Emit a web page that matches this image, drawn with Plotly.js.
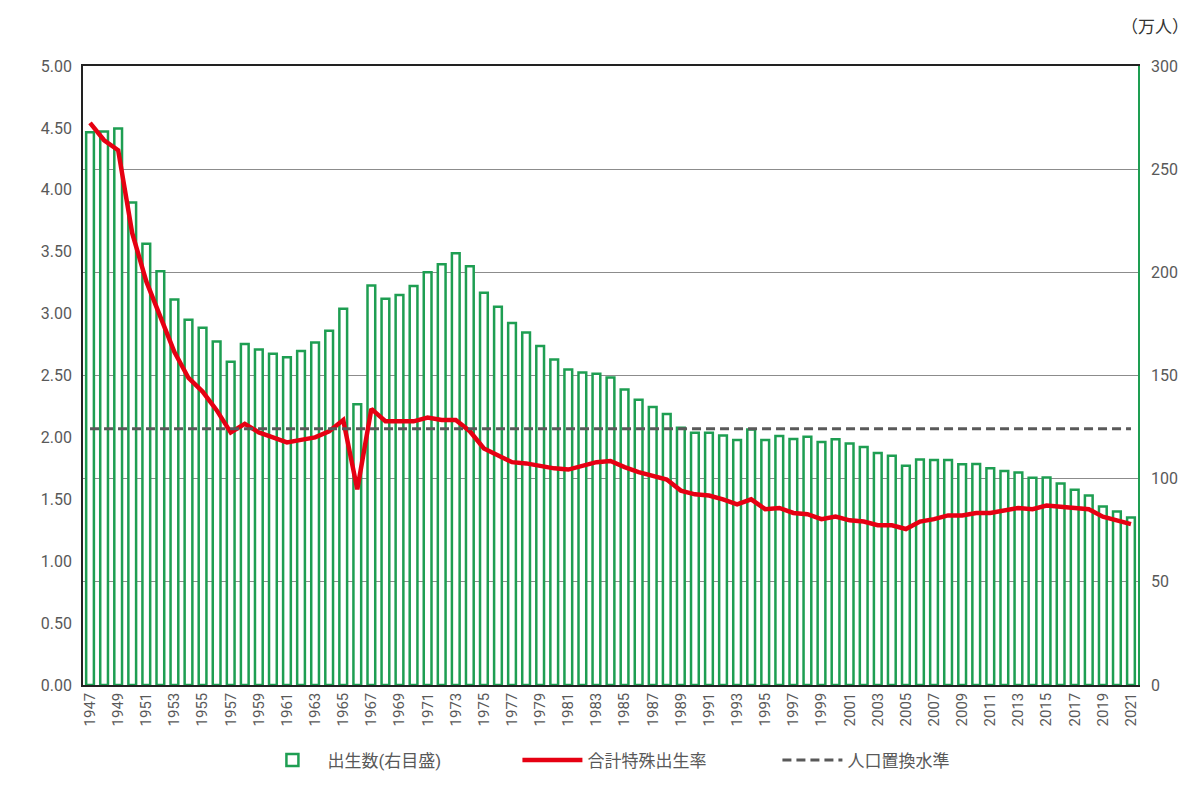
<!DOCTYPE html>
<html>
<head>
<meta charset="utf-8">
<script src="https://cdn.plot.ly/plotly-3.0.1.min.js"></script>
<style>
  html, body { margin: 0; padding: 0; background: #fff; }
  #chart { width: 1200px; height: 791px; }
</style>
</head>
<body>
<div id="chart"></div>
<script>
// 年
var years = [];
for (var y = 1947; y <= 2021; y++) years.push(y);

// 出生数（万人）
var births = [
  267.9, 268.2, 269.7, 233.8, 213.8, 200.5, 186.8, 177.0, 173.1, 166.5,
  156.7, 165.3, 162.6, 160.6, 158.9, 161.9, 166.0, 171.7, 182.4, 136.1,
  193.6, 187.2, 189.0, 193.4, 200.1, 203.9, 209.2, 203.0, 190.1, 183.3,
  175.5, 170.9, 164.3, 157.7, 152.9, 151.5, 150.9, 149.0, 143.2, 138.3,
  134.7, 131.4, 124.7, 122.2, 122.3, 120.9, 118.8, 123.8, 118.7, 120.7,
  119.2, 120.3, 117.8, 119.1, 117.1, 115.4, 112.4, 111.1, 106.3, 109.3,
  109.0, 109.1, 107.0, 107.1, 105.1, 103.7, 103.0, 100.4, 100.6, 97.7,
  94.6, 91.8, 86.5, 84.1, 81.2
];

// 合計特殊出生率
var tfr = [
  4.54, 4.40, 4.32, 3.65, 3.26, 2.98, 2.69, 2.48, 2.37, 2.22,
  2.04, 2.11, 2.04, 2.00, 1.96, 1.98, 2.00, 2.05, 2.14, 1.58,
  2.23, 2.13, 2.13, 2.13, 2.16, 2.14, 2.14, 2.05, 1.91, 1.85,
  1.80, 1.79, 1.77, 1.75, 1.74, 1.77, 1.80, 1.81, 1.76, 1.72,
  1.69, 1.66, 1.57, 1.54, 1.53, 1.50, 1.46, 1.50, 1.42, 1.43,
  1.39, 1.38, 1.34, 1.36, 1.33, 1.32, 1.29, 1.29, 1.26, 1.32,
  1.34, 1.37, 1.37, 1.39, 1.39, 1.41, 1.43, 1.42, 1.45, 1.44,
  1.43, 1.42, 1.36, 1.33, 1.30
];

// 人口置換水準
var replacementLevel = 2.07;
var replacement = years.map(function() { return replacementLevel; });

var green = '#1e9e52';
var font = '"Roboto", "Noto Sans CJK JP", sans-serif';

// bars on the primary (right side) axis so that the lines are drawn on top
var barTrace = {
  x: years,
  y: births,
  type: 'bar',
  name: '出生数(右目盛)',
  yaxis: 'y',
  width: 0.55,
  marker: { color: '#ffffff', line: { color: green, width: 2.5 } }
};

var tfrTrace = {
  x: years,
  y: tfr,
  type: 'scatter',
  mode: 'lines',
  name: '合計特殊出生率',
  yaxis: 'y2',
  line: { color: '#e60012', width: 4.5 }
};

var replTrace = {
  x: years,
  y: replacement,
  type: 'scatter',
  mode: 'lines',
  name: '人口置換水準',
  yaxis: 'y2',
  line: { color: '#595959', width: 3, dash: '9px,5px' }
};

var layout = {
  width: 1200,
  height: 791,
  margin: { l: 83, r: 62, t: 66, b: 106 },
  paper_bgcolor: '#ffffff',
  plot_bgcolor: '#ffffff',
  font: { family: font, color: '#595959', size: 16 },
  showlegend: true,
  legend: {
    orientation: 'h',
    x: 0.535, xanchor: 'center',
    y: -0.122, yanchor: 'middle',
    font: { size: 17, color: '#595959' },
    entrywidth: 185,
    traceorder: 'normal',
    itemwidth: 60
  },
  xaxis: {
    type: 'linear',
    range: [1946.5, 2021.5],
    tickmode: 'linear',
    tick0: 1947,
    dtick: 2,
    tickangle: -90,
    tickfont: { size: 15, color: '#595959' },
    showgrid: false,
    zeroline: false,
    showline: true,
    linecolor: '#222222',
    linewidth: 1.5,
    mirror: true,
    ticks: ''
  },
  yaxis: {
    side: 'right',
    range: [0, 300],
    dtick: 50,
    showgrid: true,
    gridcolor: '#8c8c8c',
    gridwidth: 1,
    zeroline: false,
    showline: true,
    linecolor: green,
    linewidth: 1.5,
    ticks: '',
    ticklabelstandoff: 8,
    tickfont: { size: 16, color: '#595959' }
  },
  yaxis2: {
    overlaying: 'y',
    side: 'left',
    range: [0, 5],
    dtick: 0.5,
    tickformat: '.2f',
    showgrid: false,
    zeroline: false,
    showline: true,
    linecolor: '#222222',
    linewidth: 1.5,
    ticks: '',
    ticklabelstandoff: 6,
    tickfont: { size: 16, color: '#595959' }
  },
  annotations: [{
    text: '（万人）',
    xref: 'paper', yref: 'paper',
    x: 1.05, y: 1.066,
    xanchor: 'right', yanchor: 'middle',
    showarrow: false,
    font: { size: 17, color: '#333333', family: '"Noto Sans CJK JP", sans-serif' }
  }]
};

Plotly.newPlot('chart', [barTrace, tfrTrace, replTrace], layout, { displayModeBar: false, displaylogo: false });
</script>
</body>
</html>
